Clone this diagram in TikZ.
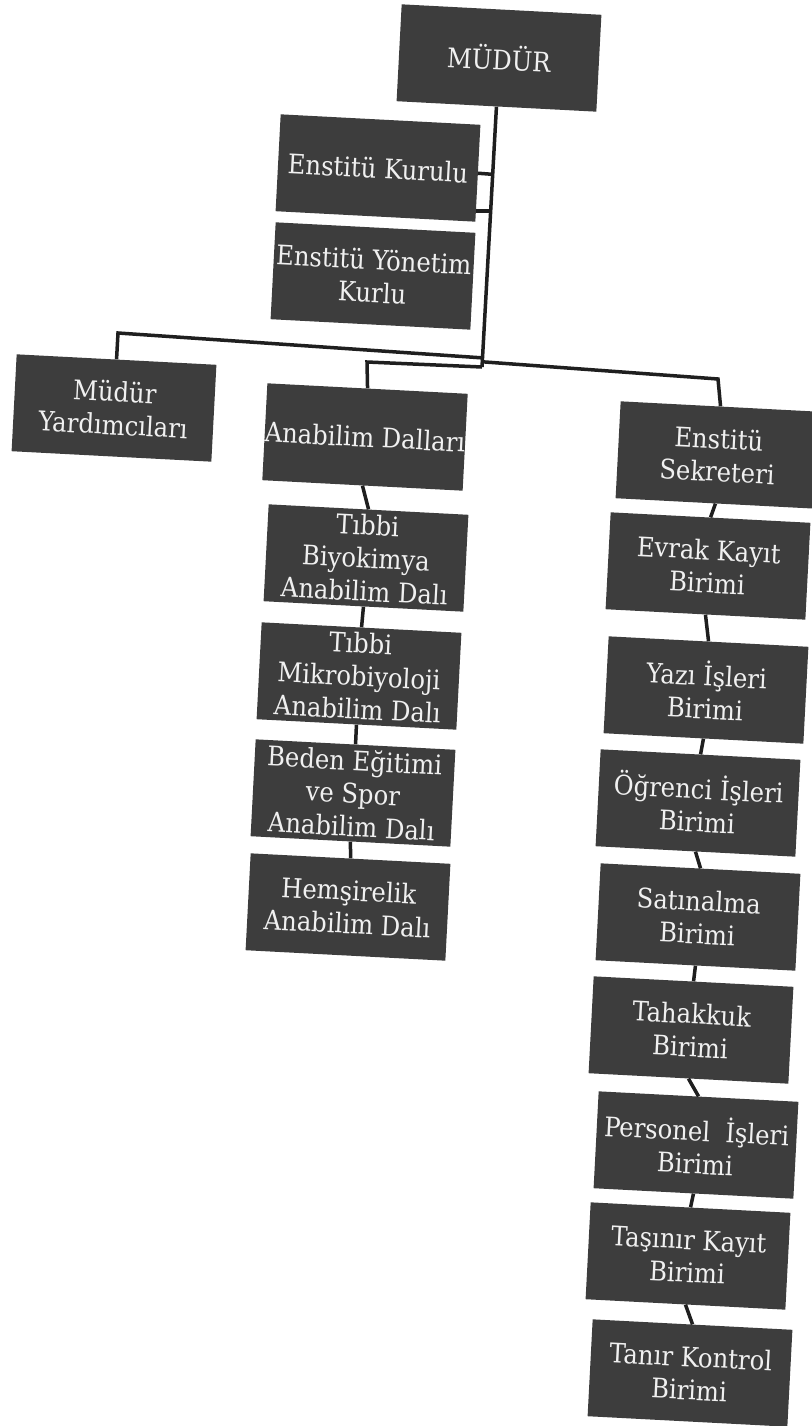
\documentclass[tikz,border=0pt]{standalone}
\usepackage{fontspec}
\setmainfont{DejaVu Serif Condensed}
\usepackage{tikz}
\usetikzlibrary{calc}

\begin{document}
\begin{tikzpicture}[x=1pt,y=-1pt]

\tikzset{box/.style={fill=black!76, text=white!94!black, rotate=-3, minimum width=200, minimum height=97, inner sep=0pt, align=center, font=\fontsize{27}{33}\selectfont},
conn/.style={line width=3.5pt, draw=black!88}}

\useasboundingbox (0,0) rectangle (811,1426);
\fill[white] (0,0) rectangle (811,1426);

% top of the chart
\foreach \n/\x/\y/\t in {mudur/499/58/{MÜDÜR}, kurulu/378/168/{Enstitü Kurulu}, yonetim/373/276/{Enstitü Yönetim\\Kurlu},
  myard/114/408/{Müdür\\Yardımcıları}, anabilim/365/437/{Anabilim Dalları}, sekreter/718/455/{Enstitü\\Sekreteri}}
\node[box] (\n) at (\x,\y) {\t};

% anabilim dallari column
\foreach \n/\x/\y/\t in {biyo/366/558/{Tıbbi\\Biyokimya\\Anabilim Dalı}, mikro/359/676/{Tıbbi\\Mikrobiyoloji\\Anabilim Dalı},
  beden/353/793/{Beden Eğitimi\\ve Spor\\Anabilim Dalı}, hemsire/348/907/{Hemşirelik\\Anabilim Dalı}}
\node[box] (\n) at (\x,\y) {\t};

% sekreterlik column
\foreach \n/\x/\y/\t in {evrak/708/566/{Evrak Kayıt\\Birimi}, yazi/706/690/{Yazı İşleri\\Birimi}, ogrenci/698/803/{Öğrenci İşleri\\Birimi},
  satin/698/917/{Satınalma\\Birimi}, tahakkuk/691/1030/{Tahakkuk\\Birimi}, personel/696/1145/{Personel\ \ İşleri\\Birimi},
  tasinir/688/1256/{Taşınır Kayıt\\Birimi}, tanir/690/1373/{Tanır Kontrol\\Birimi}}
\node[box] (\n) at (\x,\y) {\t};

\coordinate (jc) at (482,367);
\coordinate (t1) at ($(mudur.south)!0.26!(jc)$);
\coordinate (t2) at ($(mudur.south)!0.40!(jc)$);
\coordinate (jL) at ($(mudur.south)!0.965!(jc)$);
\coordinate (jS) at ($(mudur.south)!0.98!(jc)$);
\coordinate (bL) at (118,333);
\coordinate (bA) at (367,362);
\coordinate (bS) at (718,379);

\draw[conn] (mudur.south) -- (jc);
\draw[conn] (kurulu.east) -- (t1);
\draw[conn] (t2) -- (t2 -| yonetim.north east);
\draw[conn] (jL) -- (bL) -- (myard.north);
\draw[conn] (jc) -- (bA) -- (anabilim.north);
\draw[conn] (jS) -- (bS) -- (sekreter.north);

\foreach \a/\b in {anabilim/biyo, biyo/mikro, mikro/beden, beden/hemsire, sekreter/evrak, evrak/yazi, yazi/ogrenci,
  ogrenci/satin, satin/tahakkuk, tahakkuk/personel, personel/tasinir, tasinir/tanir}
\draw[conn] (\a.south) -- (\b.north);

\end{tikzpicture}
\end{document}
